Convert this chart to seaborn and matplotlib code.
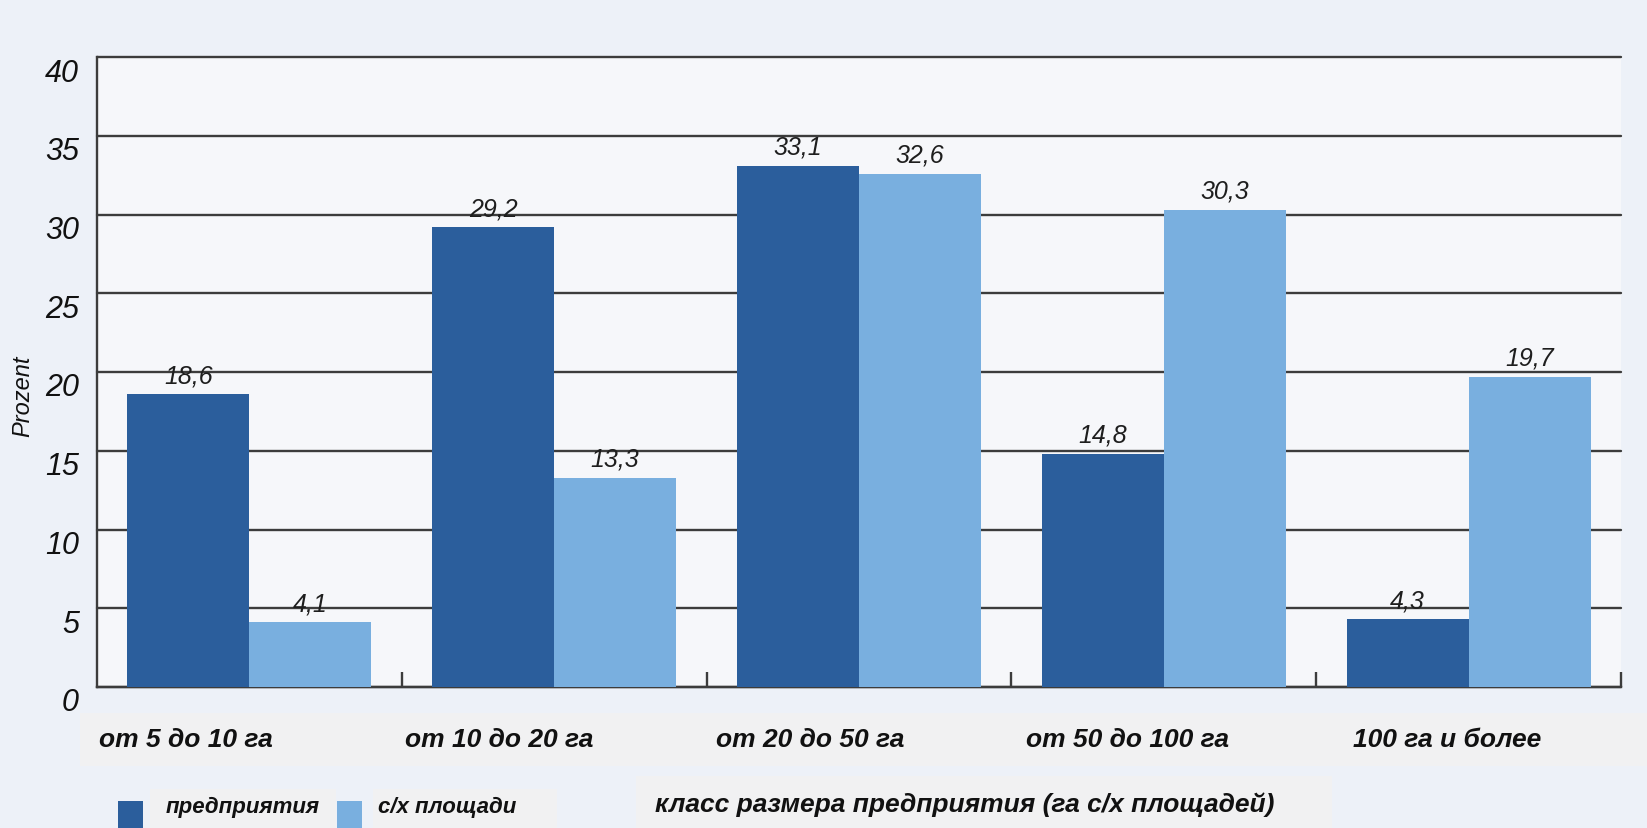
import numpy as np
import pandas as pd
import matplotlib
matplotlib.use("Agg")
import matplotlib.pyplot as plt
import matplotlib.transforms as mtransforms
from matplotlib.patches import Rectangle
from matplotlib import font_manager
import seaborn as sns

# ---- data ----
categories = ['от 5 до 10 га', 'от 10 до 20 га', 'от 20 до 50 га', 'от 50 до 100 га', '100 га и более']
series_names = ['предприятия', 'с/х площади']
enterprises = [18.6, 29.2, 33.1, 14.8, 4.3]
farmland = [4.1, 13.3, 32.6, 30.3, 19.7]
y_ticks = [0, 5, 10, 15, 20, 25, 30, 35, 40]
y_label = 'Prozent'
x_title = 'класс размера предприятия (га с/х площадей)'

df = pd.DataFrame({
    'class': categories * 2,
    'series': [series_names[0]] * len(categories) + [series_names[1]] * len(categories),
    'value': enterprises + farmland,
})

# ---- style ----
DARK = '#2b5e9c'
LIGHT = '#79afdf'
FIG_BG = '#edf1f8'
AX_BG = '#f6f7fa'
BOX = '#f1f1f2'
GRID = '#3c3c3c'
TXT = '#111111'

sns.set_theme(style='white')
names = {f.name for f in font_manager.fontManager.ttflist}
base = 'Liberation Sans' if 'Liberation Sans' in names else 'DejaVu Sans'
narrow = 'Liberation Sans Narrow' if 'Liberation Sans Narrow' in names else base
plt.rcParams['font.family'] = [base, 'DejaVu Sans']

W, H = 1647, 829
fig = plt.figure(figsize=(W / 100, H / 100), dpi=100, facecolor=FIG_BG)
ax = fig.add_axes([97 / W, (H - 688) / H, (1621 - 97) / W, (688 - 58) / H])
ax.set_facecolor(AX_BG)

sns.barplot(data=df, x='class', y='value', hue='series', order=categories,
            hue_order=series_names, palette=[DARK, LIGHT], width=0.8,
            saturation=1, legend=False, ax=ax, linewidth=0, zorder=3)

ax.set_xlim(-0.5, len(categories) - 0.5)
ax.set_ylim(0, 40)

# value labels
for cont in ax.containers:
    ax.bar_label(cont, labels=[f'{v:.1f}'.replace('.', ',') for v in cont.datavalues],
                 padding=5, fontsize=18, fontstyle='italic', family=[narrow, 'DejaVu Sans'],
                 color='#1e1e1e')

# grid / spines
ax.set_yticks(y_ticks)
ax.yaxis.grid(True, color=GRID, linewidth=1.7)
ax.xaxis.grid(False)
ax.set_axisbelow(True)
for gl in ax.get_ygridlines():
    gl.set_clip_on(False)
for s in ['top', 'right']:
    ax.spines[s].set_visible(False)
for s in ['left', 'bottom']:
    ax.spines[s].set_color(GRID)
    ax.spines[s].set_linewidth(1.7)

# y tick labels (italic, shifted slightly below grid line)
ax.tick_params(axis='y', length=0, pad=13, labelsize=22, labelcolor=TXT)
ax.set_yticklabels([str(t) for t in y_ticks], fontstyle='italic')
offset = mtransforms.ScaledTranslation(0, -12 / 100, fig.dpi_scale_trans)
for lab in ax.get_yticklabels():
    lab.set_transform(lab.get_transform() + offset)
ax.set_ylabel(y_label, fontsize=17, fontstyle='italic', color=TXT)
ax.yaxis.set_label_coords(-0.041, 0.4635)

# x axis: boundary ticks pointing up, labels drawn in band below
ax.set_xticks([])
ax.set_xlabel('')
ax.set_xticks(np.arange(len(categories)) + 0.5, minor=True)
ax.tick_params(axis='x', which='minor', bottom=True, direction='in', length=11,
               width=1.7, color=GRID)

# category label band
fig.add_artist(Rectangle((80 / W, 1 - 767 / H), (W - 80) / W, 53 / H,
                         transform=fig.transFigure, facecolor=BOX, edgecolor='none', zorder=-1))
label_shift = [-0.21, -0.18, -0.16, -0.12, -0.07]
trans = mtransforms.blended_transform_factory(ax.transData, fig.transFigure)
for i, cat in enumerate(categories):
    ax.text(i + label_shift[i], 1 - 740 / H, cat, transform=trans, ha='center', va='center',
            fontsize=19, fontweight='bold', fontstyle='italic', color=TXT, clip_on=False)

# legend (manual, as in reference)
leg = [(118, 150, 336, 243, DARK, series_names[0]),
       (337, 373, 557, 447, LIGHT, series_names[1])]
for sq_x, bx0, bx1, tx, col, name in leg:
    fig.add_artist(Rectangle((bx0 / W, 0), (bx1 - bx0) / W, (H - 790) / H,
                             transform=fig.transFigure, facecolor=BOX, edgecolor='none', zorder=-1))
    fig.add_artist(Rectangle((sq_x / W, 0), 25 / W, (H - 802) / H,
                             transform=fig.transFigure, facecolor=col, edgecolor='none'))
    fig.text(tx / W, 1 - 807 / H, name, ha='center', va='center', fontsize=16,
             fontweight='bold', fontstyle='italic', color=TXT)

# x title box
fig.add_artist(Rectangle((636 / W, 0), (1332 - 636) / W, (H - 777) / H,
                         transform=fig.transFigure, facecolor=BOX, edgecolor='none', zorder=-1))
fig.text(965 / W, 1 - 805 / H, x_title, ha='center', va='center', fontsize=19,
         fontweight='bold', fontstyle='italic', color=TXT)

fig.savefig('out.png', dpi=100, facecolor=FIG_BG)
